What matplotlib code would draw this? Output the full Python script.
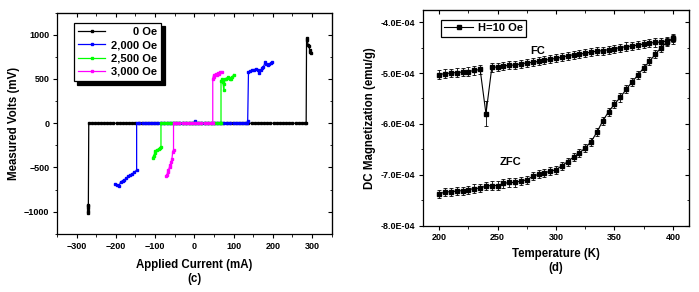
# -*- coding: utf-8 -*-
"""
I-V curves under field (c) and FC/ZFC magnetization (d).
"""

import numpy as np
import matplotlib
matplotlib.use("Agg")
import matplotlib.pyplot as plt
from matplotlib.ticker import MultipleLocator, FuncFormatter

plt.rcParams['font.family'] = ['Liberation Sans', 'DejaVu Sans']
plt.rcParams['font.weight'] = 'bold'
plt.rcParams['axes.labelweight'] = 'bold'

############################################################################## Data (c)

# 0 Oe : normal branch at -I, superconducting plateau, normal branch at +I
i_0 = [-272, -271, -271, -270, -270, -269,
       -262, -254, -246, -238, -230, -222, -214, -206, -198, -190, -182, -174,
       -166, -158, -150, -142, -134, -126, -118, -110, -102, -94, -86, -78,
       -70, -62, -54, -46, -38, -30, -22, -14, -6, 2, 10, 18, 26, 34, 42, 50,
       58, 66, 74, 82, 90, 98, 106, 114, 122, 130, 138, 146, 154, 162, 170,
       178, 186, 194, 202, 210, 218, 226, 234, 242, 250, 258, 266, 274, 282,
       285, 286, 288, 290, 292, 294, 296, 298]
v_0 = [-1010, -990, -960, -940, -920, 0,
       0, 0, 0, 0, 0, 0, 0, 0, 0, 0, 0, 0,
       0, 0, 0, 0, 0, 0, 0, 0, 0, 0, 0, 0,
       0, 0, 0, 0, 0, 0, 0, 0, 0, 0, 0, 0, 0, 0, 0, 0,
       0, 0, 0, 0, 0, 0, 0, 0, 0, 0, 0, 0, 0, 0, 0,
       0, 0, 0, 0, 0, 0, 0, 0, 0, 0, 0, 0, 0, 0,
       0, 960, 940, 880, 870, 830, 810, 790]

# 2,000 Oe
i_2000 = [-203, -198, -192, -188, -183, -178, -173, -168, -163, -158, -153, -147,
          -147, -140, -132, -124, -116, -108, -100, -92, -84, -76, -68, -60,
          -52, -44, -36, -28, -20, -12, -4, 2, 4, 12, 20, 28, 36, 44, 52, 60,
          68, 76, 84, 92, 100, 108, 116, 124, 132, 135, 136,
          138, 143, 148, 153, 157, 161, 165, 169, 173, 176, 180, 183, 187,
          191, 195, 199]
v_2000 = [-690, -695, -711, -665, -650, -640, -620, -600, -585, -570, -555, -530,
          0, 0, 0, 0, 0, 0, 0, 0, 0, 0, 0, 0,
          0, 0, 0, 0, 0, 0, 0, 20, 0, 0, 0, 0, 0, 0, 0, 0,
          0, 0, 0, 0, 0, 0, 0, 0, 0, 5, 30,
          577, 590, 600, 605, 614, 600, 566, 600, 620, 633, 689, 670, 652,
          665, 680, 689]

# 2,500 Oe
i_2500 = [-106, -104, -101, -99, -95, -91, -87, -85,
          -85, -78, -70, -62, -54, -46, -38, -30, -22, -14, -6, 2, 10, 18, 26,
          34, 42, 50, 58, 66, 68,
          68, 70, 73, 75, 76, 78, 81, 85, 88, 91, 94, 97, 100]
v_2500 = [-390, -370, -340, -310, -300, -290, -285, -270,
          0, 0, 0, 0, 0, 0, 0, 0, 0, 0, 0, 0, 0, 0, 0,
          0, 0, 0, 0, 0, 0,
          480, 500, 470, 370, 440, 500, 505, 520, 510, 500, 505, 520, 550]

# 3,000 Oe
i_3000 = [-72, -70, -68, -66, -63, -61, -59, -57, -55, -53,
          -53, -46, -38, -30, -22, -14, -6, 2, 10, 18, 26, 34, 42, 47,
          47, 49, 51, 54, 57, 60, 63, 66, 70]
v_3000 = [-600, -590, -550, -530, -490, -470, -435, -400, -320, -300,
          0, 0, 0, 0, 0, 0, 0, 0, 0, 0, 0, 0, 0, 0,
          505, 540, 520, 560, 550, 570, 560, 575, 580]

iv_series = [(i_0, v_0, 'black', '       0 Oe'),
             (i_2000, v_2000, '#0000ff', '2,000 Oe'),
             (i_2500, v_2500, '#00ff00', '2,500 Oe'),
             (i_3000, v_3000, '#ff00ff', '3,000 Oe')]

############################################################################## Data (d)

temp = [200, 205, 210, 215, 220, 225, 230, 235, 240, 245, 250, 255, 260, 265,
        270, 275, 280, 285, 290, 295, 300, 305, 310, 315, 320, 325, 330, 335,
        340, 345, 350, 355, 360, 365, 370, 375, 380, 385, 390, 395, 400]

# values in units of 1E-04 emu/g
fc = [-5.03, -5.01, -5.00, -4.99, -4.98, -4.97, -4.95, -4.93, -5.80, -4.89,
      -4.88, -4.86, -4.85, -4.84, -4.82, -4.80, -4.79, -4.77, -4.75, -4.73,
      -4.71, -4.69, -4.66, -4.64, -4.63, -4.61, -4.59, -4.57, -4.56, -4.54,
      -4.52, -4.50, -4.48, -4.47, -4.45, -4.43, -4.41, -4.40, -4.39, -4.37,
      -4.34]
zfc = [-7.37, -7.34, -7.33, -7.32, -7.31, -7.29, -7.27, -7.26, -7.22, -7.21,
       -7.21, -7.17, -7.15, -7.15, -7.12, -7.10, -7.03, -6.99, -6.96, -6.93,
       -6.90, -6.82, -6.74, -6.65, -6.57, -6.47, -6.35, -6.16, -5.94, -5.76,
       -5.61, -5.48, -5.32, -5.18, -5.04, -4.90, -4.77, -4.63, -4.50, -4.39,
       -4.32]
fc_err = [0.08] * 8 + [0.25] + [0.08] * 32
zfc_err = [0.08] * 41

############################################################################## Helpers

def style_axes(ax, xmajor, xminor, ymajor, yminor):
    ax.xaxis.set_major_locator(MultipleLocator(xmajor))
    ax.xaxis.set_minor_locator(MultipleLocator(xminor))
    ax.yaxis.set_major_locator(MultipleLocator(ymajor))
    ax.yaxis.set_minor_locator(MultipleLocator(yminor))
    ax.tick_params(which='major', direction='out', length=3, width=0.8,
                   labelsize=6.5, pad=2.5)
    ax.tick_params(which='minor', direction='out', length=1.8, width=0.6)
    for s in ax.spines.values():
        s.set_linewidth(0.9)
    # mirrored inward ticks on top / right
    top = ax.secondary_xaxis('top')
    top.xaxis.set_major_locator(MultipleLocator(xmajor))
    top.xaxis.set_minor_locator(MultipleLocator(xminor))
    top.tick_params(which='major', direction='in', length=3, width=0.8, labeltop=False)
    top.tick_params(which='minor', direction='in', length=1.8, width=0.6)
    right = ax.secondary_yaxis('right')
    right.yaxis.set_major_locator(MultipleLocator(ymajor))
    right.yaxis.set_minor_locator(MultipleLocator(yminor))
    right.tick_params(which='major', direction='in', length=3, width=0.8, labelright=False)
    right.tick_params(which='minor', direction='in', length=1.8, width=0.6)

############################################################################## Plot

fig = plt.figure(figsize=(6.99, 2.92), dpi=100)

# (c) I-V
ax1 = fig.add_axes([0.0815, 0.199, 0.393, 0.758])
for i, v, c, lab in iv_series:
    ax1.plot(i, v, color=c, lw=0.9, marker='s', ms=1.8, mec=c, mfc=c, label=lab)
ax1.set_xlim(-350, 350)
ax1.set_ylim(-1250, 1250)
style_axes(ax1, 100, 50, 500, 250)
ax1.set_xlabel('Applied Current (mA)\n(c)', fontsize=8.3, labelpad=6, linespacing=1.25)
ax1.set_ylabel('Measured Volts (mV)', fontsize=8.3, labelpad=3)
leg1 = ax1.legend(loc='upper left', bbox_to_anchor=(0.062, 0.955), borderaxespad=0,
                  fontsize=8, numpoints=1, handlelength=2.4, handletextpad=0.5,
                  labelspacing=0.3, borderpad=0.4, fancybox=False,
                  shadow={'color': 'black', 'alpha': 1, 'ox': 2.5, 'oy': -2.5},
                  edgecolor='black', framealpha=1)
leg1.get_frame().set_linewidth(0.9)

# (d) magnetization
ax2 = fig.add_axes([0.605, 0.227, 0.381, 0.739])
t = np.array(temp)
ax2.errorbar(t, np.array(fc) * 1e-4, yerr=np.array(fc_err) * 1e-4, fmt='none',
             ecolor='black', elinewidth=0.6, capsize=1.6, capthick=0.6)
ax2.errorbar(t, np.array(zfc) * 1e-4, yerr=np.array(zfc_err) * 1e-4, fmt='none',
             ecolor='black', elinewidth=0.6, capsize=1.6, capthick=0.6)
ax2.plot(t, np.array(fc) * 1e-4, color='black', lw=0.8, marker='s', ms=2.2,
         label='H=10 Oe')
ax2.plot(t, np.array(zfc) * 1e-4, color='black', lw=0.8, marker='s', ms=2.2)
ax2.set_xlim(186, 414)
ax2.set_ylim(-8.0e-4, -3.76e-4)
style_axes(ax2, 50, 25, 1e-4, 0.5e-4)
ax2.yaxis.set_major_formatter(FuncFormatter(lambda y, p: '%.1E' % y))
ax2.set_xlabel('Temperature (K)\n(d)', fontsize=8.3, labelpad=4, linespacing=1.25)
ax2.set_ylabel('DC Magnetization (emu/g)', fontsize=8.3, labelpad=3)
ax2.text(284, -4.57e-4, 'FC', fontsize=8, fontweight='bold', ha='center', va='center')
ax2.text(261, -6.75e-4, 'ZFC', fontsize=8, fontweight='bold', ha='center', va='center')
leg2 = ax2.legend(loc='upper left', bbox_to_anchor=(0.068, 0.954), borderaxespad=0,
                  fontsize=8, numpoints=1, handlelength=2.6, handletextpad=0.4,
                  borderpad=0.3, fancybox=False, edgecolor='black', framealpha=1)
leg2.get_frame().set_linewidth(0.9)

fig.savefig('out.png', dpi=100)
plt.close(fig)
